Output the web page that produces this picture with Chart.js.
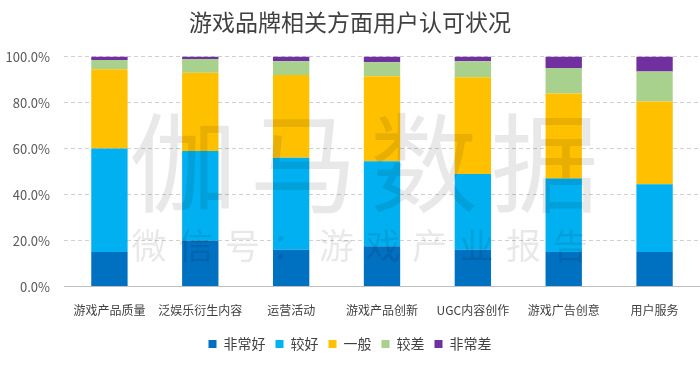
<!DOCTYPE html>
<html>
<head>
<meta charset="utf-8">
<script src="https://cdn.jsdelivr.net/npm/chart.js@4/dist/chart.umd.min.js"></script>
<style>
  html, body { margin: 0; padding: 0; background: #fff; }
  #wrap { width: 700px; height: 367px; }
</style>
</head>
<body>
<div id="wrap"><canvas id="brandChart" width="700" height="367"></canvas></div>
<script>
const categories = ['游戏产品质量', '泛娱乐衍生内容', '运营活动', '游戏产品创新', 'UGC内容创作', '游戏广告创意', '用户服务'];

// 百分比 (%)
const veryGood = [15, 20, 16, 17.5, 16, 15, 15];
const good     = [45, 39, 40, 37, 33, 32, 29.5];
const normal   = [34.5, 34, 36, 37, 42, 37, 36];
const bad      = [4, 6, 6, 6, 7, 11, 13];
const veryBad  = [1.5, 1, 2, 2.5, 2, 5, 6.5];

const seriesNames = ['非常好', '较好', '一般', '较差', '非常差'];
const yTicks = [0, 20, 40, 60, 80, 100];

const FONT = '"Noto Sans CJK SC", "Noto Sans", sans-serif';

// 水印
const watermark = {
    id: 'watermark',
    afterDatasetsDraw(chart) {
        const c = chart.ctx;
        c.save();
        c.fillStyle = 'rgba(0,0,0,0.09)';
        c.textAlign = 'center';
        c.textBaseline = 'middle';
        c.font = '108px ' + FONT;
        '伽马数据'.split('').forEach((ch, i) => c.fillText(ch, 183 + i * 120.5, 163));
        c.font = '35px ' + FONT;
        '微信号：游戏产业报告'.split('').forEach((ch, i) => c.fillText(ch, 149 + i * 46.8, 246));
        c.restore();
    }
};

function initChart() {
    const ctx = document.getElementById('brandChart').getContext('2d');
    const colors = ['#0070C0', '#00B0F0', '#FFC000', '#A9D18E', '#7030A0'];
    const values = [veryGood, good, normal, bad, veryBad];

    new Chart(ctx, {
        type: 'bar',
        data: {
            labels: categories,
            datasets: values.map((v, i) => ({
                label: seriesNames[i],
                data: v,
                backgroundColor: colors[i],
                borderWidth: 0,
                barPercentage: 0.4,
                categoryPercentage: 1
            }))
        },
        options: {
            responsive: false,
            animation: false,
            layout: { padding: { left: 0, right: 0, bottom: 6 } },
            plugins: {
                title: {
                    display: true,
                    text: '游戏品牌相关方面用户认可状况',
                    color: '#404040',
                    font: { family: FONT, size: 23, weight: 'normal' },
                    padding: { top: 8, bottom: 21 }
                },
                legend: {
                    position: 'bottom',
                    labels: {
                        color: '#404040',
                        font: { family: FONT, size: 14 },
                        boxWidth: 8,
                        boxHeight: 8,
                        padding: 10
                    }
                },
                tooltip: { enabled: false }
            },
            scales: {
                x: {
                    stacked: true,
                    grid: { display: false },
                    border: { display: true, color: '#BFBFBF', width: 1 },
                    ticks: {
                        color: '#404040',
                        font: { family: FONT, size: 12 },
                        padding: 9,
                        maxRotation: 0,
                        autoSkip: false
                    }
                },
                y: {
                    stacked: true,
                    min: 0,
                    max: 100,
                    afterFit: scale => { scale.width = 64; },
                    afterBuildTicks: scale => { scale.ticks = yTicks.map(v => ({ value: v })); },
                    grid: {
                        color: c => c.tick && c.tick.value === 0 ? 'rgba(0,0,0,0)' : '#D0D0D0',
                        drawTicks: false
                    },
                    border: { display: false, dash: [4, 3] },
                    ticks: {
                        color: '#595959',
                        font: { family: FONT, size: 13 },
                        padding: 14,
                        callback: v => v.toFixed(1) + '%'
                    }
                }
            }
        },
        plugins: [watermark]
    });
}

initChart();
</script>
</body>
</html>
